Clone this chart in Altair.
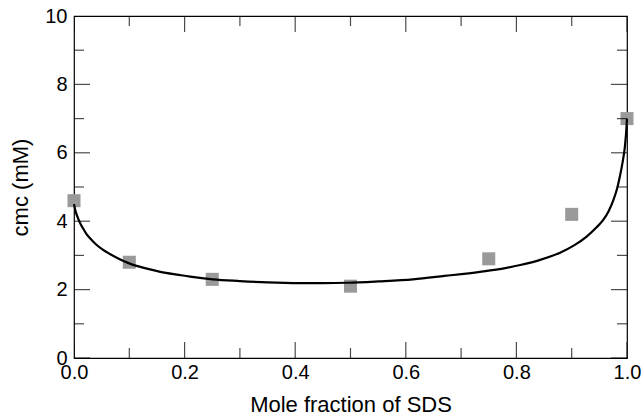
import altair as alt
import pandas as pd

# Measured data points (mole fraction of SDS vs cmc in mM)
x_points = [0.0, 0.1, 0.25, 0.5, 0.75, 0.9, 1.0]
cmc_points = [4.6, 2.8, 2.3, 2.1, 2.9, 4.2, 7.0]

# Fitted curve
x_curve = [0.0, 0.003, 0.007, 0.011, 0.016, 0.022, 0.029, 0.04, 0.052, 0.065,
           0.08, 0.101, 0.13, 0.156, 0.19, 0.21, 0.251, 0.30, 0.35, 0.409,
           0.45, 0.494, 0.55, 0.613, 0.67, 0.734, 0.78, 0.807, 0.843, 0.879,
           0.905, 0.927, 0.945, 0.957, 0.967, 0.975, 0.982, 0.987, 0.992, 0.996,
           0.998, 1.0]
cmc_curve = [4.5, 4.28, 4.1, 3.95, 3.8, 3.64, 3.5, 3.32, 3.17, 3.04,
             2.91, 2.76, 2.62, 2.52, 2.43, 2.38, 2.30, 2.25, 2.21, 2.19,
             2.19, 2.2, 2.24, 2.3, 2.4, 2.52, 2.63, 2.72, 2.87, 3.08,
             3.30, 3.55, 3.82, 4.04, 4.3, 4.6, 4.95, 5.3, 5.72, 6.15,
             6.5, 7.0]

# Axis tick values
x_major = [0.0, 0.2, 0.4, 0.6, 0.8, 1.0]
x_minor = [0.1, 0.3, 0.5, 0.7, 0.9]
y_major = [0, 2, 4, 6, 8, 10]
y_minor = [1, 3, 5, 7, 9]

FONT = "Liberation Sans"

points_df = pd.DataFrame({"x": x_points, "cmc": cmc_points})
curve_df = pd.DataFrame({"x": x_curve, "cmc": cmc_curve})

xscale = alt.Scale(domain=[0, 1], nice=False, zero=False)
yscale = alt.Scale(domain=[0, 10], nice=False, zero=False)

xaxis = alt.Axis(values=x_major, format=".1f", title="Mole fraction of SDS",
                 ticks=False, domain=False, grid=False, labelFlush=False,
                 labelOverlap=False, labelPadding=4, titlePadding=12,
                 labelFont=FONT, labelFontSize=20, labelColor="black",
                 titleFont=FONT, titleFontSize=22, titleFontWeight="normal",
                 titleColor="black")
yaxis = alt.Axis(values=y_major, format="d", title="cmc (mM)",
                 ticks=False, domain=False, grid=False, labelOverlap=False,
                 labelPadding=7, titlePadding=12,
                 labelFont=FONT, labelFontSize=20, labelColor="black",
                 titleFont=FONT, titleFontSize=22, titleFontWeight="normal",
                 titleColor="black")

pts = alt.Chart(points_df).mark_square(size=170, color="#9a9a9a", opacity=1, filled=True).encode(
    x=alt.X("x:Q", scale=xscale, axis=xaxis),
    y=alt.Y("cmc:Q", scale=yscale, axis=yaxis),
)

line = alt.Chart(curve_df).mark_line(color="black", strokeWidth=2.2, interpolate="monotone").encode(
    x=alt.X("x:Q", scale=xscale),
    y=alt.Y("cmc:Q", scale=yscale),
)

def yticks(vals, length, side):
    return alt.Chart(pd.DataFrame({"v": vals})).mark_tick(
        orient="horizontal", size=2 * length, thickness=1.2, color="black", clip=True
    ).encode(y=alt.Y("v:Q", scale=yscale), x=alt.datum(side))

def xticks(vals, length, side):
    return alt.Chart(pd.DataFrame({"v": vals})).mark_tick(
        orient="vertical", size=2 * length, thickness=1.2, color="black", clip=True
    ).encode(x=alt.X("v:Q", scale=xscale), y=alt.datum(side))

ticks = [
    yticks(y_major, 16, 0), yticks(y_minor, 10, 0),
    yticks(y_major, 16, 1), yticks(y_minor, 10, 1),
    xticks(x_major, 16, 0), xticks(x_minor, 10, 0),
    xticks(x_major, 16, 10), xticks(x_minor, 10, 10),
]

chart = alt.layer(pts, line, *ticks).properties(
    width=553, height=342,
    background="white",
    autosize=alt.AutoSizeParams(type="none"),
    padding={"left": 74, "top": 16, "right": 17, "bottom": 61},
).configure_view(
    stroke="black", strokeWidth=1.2
)

chart.save("out.html", embed_options={"renderer": "svg", "actions": False})
